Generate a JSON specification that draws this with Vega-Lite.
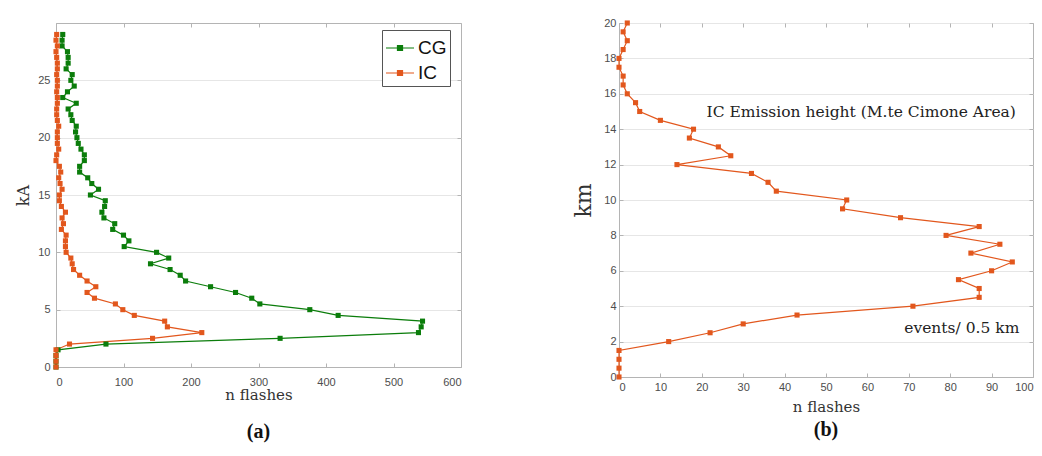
{
  "$schema": "https://vega.github.io/schema/vega-lite/v6.json",
  "background": "white",
  "padding": {"left": 15, "top": 16, "right": 0, "bottom": 0},
  "spacing": 110,
  "datasets": {
    "a": [
      {"kA": 0, "n": 0, "type": "CG"}, {"kA": 0.5, "n": 0, "type": "CG"}, {"kA": 1, "n": 0, "type": "CG"}, {"kA": 1.5, "n": 3, "type": "CG"},
      {"kA": 2, "n": 74, "type": "CG"}, {"kA": 2.5, "n": 332, "type": "CG"}, {"kA": 3, "n": 537, "type": "CG"}, {"kA": 3.5, "n": 541, "type": "CG"},
      {"kA": 4, "n": 543, "type": "CG"}, {"kA": 4.5, "n": 418, "type": "CG"}, {"kA": 5, "n": 376, "type": "CG"}, {"kA": 5.5, "n": 302, "type": "CG"},
      {"kA": 6, "n": 290, "type": "CG"}, {"kA": 6.5, "n": 266, "type": "CG"}, {"kA": 7, "n": 229, "type": "CG"}, {"kA": 7.5, "n": 192, "type": "CG"},
      {"kA": 8, "n": 184, "type": "CG"}, {"kA": 8.5, "n": 169, "type": "CG"}, {"kA": 9, "n": 140, "type": "CG"}, {"kA": 9.5, "n": 167, "type": "CG"},
      {"kA": 10, "n": 149, "type": "CG"}, {"kA": 10.5, "n": 101, "type": "CG"}, {"kA": 11, "n": 108, "type": "CG"}, {"kA": 11.5, "n": 100, "type": "CG"},
      {"kA": 12, "n": 84, "type": "CG"}, {"kA": 12.5, "n": 87, "type": "CG"}, {"kA": 13, "n": 71, "type": "CG"}, {"kA": 13.5, "n": 68, "type": "CG"},
      {"kA": 14, "n": 72, "type": "CG"}, {"kA": 14.5, "n": 73, "type": "CG"}, {"kA": 15, "n": 51, "type": "CG"}, {"kA": 15.5, "n": 63, "type": "CG"},
      {"kA": 16, "n": 53, "type": "CG"}, {"kA": 16.5, "n": 47, "type": "CG"}, {"kA": 17, "n": 35, "type": "CG"}, {"kA": 17.5, "n": 35, "type": "CG"},
      {"kA": 18, "n": 42, "type": "CG"}, {"kA": 18.5, "n": 42, "type": "CG"}, {"kA": 19, "n": 37, "type": "CG"}, {"kA": 19.5, "n": 33, "type": "CG"},
      {"kA": 20, "n": 31, "type": "CG"}, {"kA": 20.5, "n": 29, "type": "CG"}, {"kA": 21, "n": 30, "type": "CG"}, {"kA": 21.5, "n": 24, "type": "CG"},
      {"kA": 22, "n": 22, "type": "CG"}, {"kA": 22.5, "n": 18, "type": "CG"}, {"kA": 23, "n": 30, "type": "CG"}, {"kA": 23.5, "n": 10, "type": "CG"},
      {"kA": 24, "n": 17, "type": "CG"}, {"kA": 24.5, "n": 27, "type": "CG"}, {"kA": 25, "n": 22, "type": "CG"}, {"kA": 25.5, "n": 24, "type": "CG"},
      {"kA": 26, "n": 15, "type": "CG"}, {"kA": 26.5, "n": 18, "type": "CG"}, {"kA": 27, "n": 18, "type": "CG"}, {"kA": 27.5, "n": 17, "type": "CG"},
      {"kA": 28, "n": 9, "type": "CG"}, {"kA": 28.5, "n": 9, "type": "CG"}, {"kA": 29, "n": 10, "type": "CG"},
      {"kA": 0, "n": 0, "type": "IC"}, {"kA": 0.5, "n": 0, "type": "IC"}, {"kA": 1, "n": 0, "type": "IC"}, {"kA": 1.5, "n": 0, "type": "IC"},
      {"kA": 2, "n": 20, "type": "IC"}, {"kA": 2.5, "n": 143, "type": "IC"}, {"kA": 3, "n": 216, "type": "IC"}, {"kA": 3.5, "n": 165, "type": "IC"},
      {"kA": 4, "n": 161, "type": "IC"}, {"kA": 4.5, "n": 116, "type": "IC"}, {"kA": 5, "n": 99, "type": "IC"}, {"kA": 5.5, "n": 88, "type": "IC"},
      {"kA": 6, "n": 57, "type": "IC"}, {"kA": 6.5, "n": 46, "type": "IC"}, {"kA": 7, "n": 59, "type": "IC"}, {"kA": 7.5, "n": 46, "type": "IC"},
      {"kA": 8, "n": 35, "type": "IC"}, {"kA": 8.5, "n": 26, "type": "IC"}, {"kA": 9, "n": 24, "type": "IC"}, {"kA": 9.5, "n": 22, "type": "IC"},
      {"kA": 10, "n": 15, "type": "IC"}, {"kA": 10.5, "n": 14, "type": "IC"}, {"kA": 11, "n": 14, "type": "IC"}, {"kA": 11.5, "n": 15, "type": "IC"},
      {"kA": 12, "n": 8, "type": "IC"}, {"kA": 12.5, "n": 11, "type": "IC"}, {"kA": 13, "n": 9, "type": "IC"}, {"kA": 13.5, "n": 14, "type": "IC"},
      {"kA": 14, "n": 8, "type": "IC"}, {"kA": 14.5, "n": 5, "type": "IC"}, {"kA": 15, "n": 5, "type": "IC"}, {"kA": 15.5, "n": 9, "type": "IC"},
      {"kA": 16, "n": 6, "type": "IC"}, {"kA": 16.5, "n": 4, "type": "IC"}, {"kA": 17, "n": 7, "type": "IC"}, {"kA": 17.5, "n": 5, "type": "IC"},
      {"kA": 18, "n": 0, "type": "IC"}, {"kA": 18.5, "n": 1, "type": "IC"}, {"kA": 19, "n": 4, "type": "IC"}, {"kA": 19.5, "n": 2, "type": "IC"},
      {"kA": 20, "n": 2, "type": "IC"}, {"kA": 20.5, "n": 2, "type": "IC"}, {"kA": 21, "n": 4, "type": "IC"}, {"kA": 21.5, "n": 2, "type": "IC"},
      {"kA": 22, "n": 1, "type": "IC"}, {"kA": 22.5, "n": 1, "type": "IC"}, {"kA": 23, "n": 2, "type": "IC"}, {"kA": 23.5, "n": 2, "type": "IC"},
      {"kA": 24, "n": 1, "type": "IC"}, {"kA": 24.5, "n": 2, "type": "IC"}, {"kA": 25, "n": 2, "type": "IC"}, {"kA": 25.5, "n": 1, "type": "IC"},
      {"kA": 26, "n": 2, "type": "IC"}, {"kA": 26.5, "n": 2, "type": "IC"}, {"kA": 27, "n": 1, "type": "IC"}, {"kA": 27.5, "n": 0, "type": "IC"},
      {"kA": 28, "n": 2, "type": "IC"}, {"kA": 28.5, "n": 0, "type": "IC"}, {"kA": 29, "n": 1, "type": "IC"}
    ],
    "b": [
      {"km": 0, "n": 0}, {"km": 0.5, "n": 0}, {"km": 1, "n": 0}, {"km": 1.5, "n": 0}, {"km": 2, "n": 12}, {"km": 2.5, "n": 22},
      {"km": 3, "n": 30}, {"km": 3.5, "n": 43}, {"km": 4, "n": 71}, {"km": 4.5, "n": 87}, {"km": 5, "n": 87}, {"km": 5.5, "n": 82},
      {"km": 6, "n": 90}, {"km": 6.5, "n": 95}, {"km": 7, "n": 85}, {"km": 7.5, "n": 92}, {"km": 8, "n": 79}, {"km": 8.5, "n": 87},
      {"km": 9, "n": 68}, {"km": 9.5, "n": 54}, {"km": 10, "n": 55}, {"km": 10.5, "n": 38}, {"km": 11, "n": 36}, {"km": 11.5, "n": 32},
      {"km": 12, "n": 14}, {"km": 12.5, "n": 27}, {"km": 13, "n": 24}, {"km": 13.5, "n": 17}, {"km": 14, "n": 18}, {"km": 14.5, "n": 10},
      {"km": 15, "n": 5}, {"km": 15.5, "n": 4}, {"km": 16, "n": 2}, {"km": 16.5, "n": 1}, {"km": 17, "n": 1}, {"km": 17.5, "n": 0},
      {"km": 18, "n": 0}, {"km": 18.5, "n": 1}, {"km": 19, "n": 2}, {"km": 19.5, "n": 1}, {"km": 20, "n": 2}
    ],
    "one": [{}]
  },
  "config": {
    "view": {"stroke": "#b4b4b4"},
    "axis": {
      "labelFont": "Liberation Sans", "labelFontSize": 11, "labelColor": "#4d4d4d",
      "titleFont": "DejaVu Serif", "titleFontWeight": "normal", "titleColor": "#333333",
      "domainColor": "#b4b4b4", "tickColor": "#b4b4b4", "gridColor": "#e6e6e6", "tickSize": -4
    },
    "title": {"font": "Liberation Serif", "fontSize": 20, "fontWeight": "bold", "color": "#111111"}
  },
  "hconcat": [
    {
      "width": 405, "height": 344,
      "data": {"name": "a"},
      "title": {"text": "(a)", "orient": "bottom", "offset": 20},
      "layer": [
        {
          "mark": {"type": "line", "strokeWidth": 1.2},
          "encoding": {
            "x": {"field": "n", "type": "quantitative", "scale": {"domain": [0, 600]},
                  "axis": {"values": [0, 100, 200, 300, 400, 500, 600], "grid": false, "title": "n flashes", "titleFontSize": 15, "labelPadding": 13, "titlePadding": 0}},
            "y": {"field": "kA", "type": "quantitative", "scale": {"domain": [0, 29]},
                  "axis": {"values": [0, 5, 10, 15, 20, 25], "grid": true, "title": "kA", "titleFontSize": 16, "labelPadding": 10, "titlePadding": 6}},
            "color": {"field": "type", "type": "nominal", "scale": {"domain": ["CG", "IC"], "range": ["#0b7d0b", "#e2571d"]},
                      "legend": {"title": null, "orient": "none", "legendX": 326, "legendY": 7, "strokeColor": "#555555", "fillColor": "white",
                                 "padding": 3, "rowPadding": -2, "labelFont": "Liberation Sans", "labelFontSize": 19, "labelColor": "#111111",
                                 "labelOffset": 3, "symbolType": "M-1,0H1M-0.18,-0.18H0.18V0.18H-0.18Z", "symbolSize": 784, "symbolStrokeWidth": 1.2,
                                 "encode": {"symbols": {"update": {"fill": {"scale": "color", "field": "value"}, "stroke": {"scale": "color", "field": "value"}}}}}},
            "order": {"field": "kA", "type": "quantitative"}
          }
        },
        {
          "mark": {"type": "point", "shape": "square", "filled": true, "size": 26, "opacity": 1},
          "encoding": {
            "x": {"field": "n", "type": "quantitative", "axis": {"orient": "top", "values": [0, 100, 200, 300, 400, 500, 600], "labels": false, "title": null, "grid": false, "domain": false}},
            "y": {"field": "kA", "type": "quantitative", "axis": {"orient": "right", "values": [0, 5, 10, 15, 20, 25], "labels": false, "title": null, "grid": false, "domain": false}},
            "color": {"field": "type", "type": "nominal"}
          }
        }
      ],
      "resolve": {"axis": {"x": "independent", "y": "independent"}}
    },
    {
      "width": 414, "height": 354,
      "title": {"text": "(b)", "orient": "bottom", "offset": 6},
      "layer": [
        {
          "data": {"name": "b"},
          "mark": {"type": "line", "strokeWidth": 1.2, "color": "#e2571d"},
          "encoding": {
            "x": {"field": "n", "type": "quantitative", "scale": {"domain": [0, 100]},
                  "axis": {"values": [0, 10, 20, 30, 40, 50, 60, 70, 80, 90, 100], "grid": false, "title": "n flashes", "titleFontSize": 15, "labelPadding": 8, "titlePadding": 7}},
            "y": {"field": "km", "type": "quantitative", "scale": {"domain": [0, 20]},
                  "axis": {"values": [0, 2, 4, 6, 8, 10, 12, 14, 16, 18, 20], "grid": true, "title": "km", "titleFontSize": 22, "labelPadding": 7, "titlePadding": 8}},
            "order": {"field": "km", "type": "quantitative"}
          }
        },
        {
          "data": {"name": "b"},
          "mark": {"type": "point", "shape": "square", "filled": true, "size": 26, "opacity": 1, "color": "#e2571d"},
          "encoding": {
            "x": {"field": "n", "type": "quantitative", "axis": {"orient": "top", "values": [0, 10, 20, 30, 40, 50, 60, 70, 80, 90, 100], "labels": false, "title": null, "grid": false, "domain": false}},
            "y": {"field": "km", "type": "quantitative", "axis": {"orient": "right", "values": [0, 2, 4, 6, 8, 10, 12, 14, 16, 18, 20], "labels": false, "title": null, "grid": false, "domain": false}}
          }
        },
        {
          "data": {"name": "one"},
          "mark": {"type": "text", "text": "IC Emission height (M.te Cimone Area)", "font": "DejaVu Serif", "fontSize": 15.5, "color": "#222222", "align": "center", "baseline": "middle"},
          "encoding": {"x": {"datum": 58.5, "type": "quantitative", "axis": null}, "y": {"datum": 15, "type": "quantitative", "axis": null}}
        },
        {
          "data": {"name": "one"},
          "mark": {"type": "text", "text": "events/ 0.5 km", "font": "DejaVu Serif", "fontSize": 15.5, "color": "#222222", "align": "center", "baseline": "middle"},
          "encoding": {"x": {"datum": 82.8, "type": "quantitative", "axis": null}, "y": {"datum": 2.75, "type": "quantitative", "axis": null}}
        }
      ],
      "resolve": {"axis": {"x": "independent", "y": "independent"}}
    }
  ]
}
